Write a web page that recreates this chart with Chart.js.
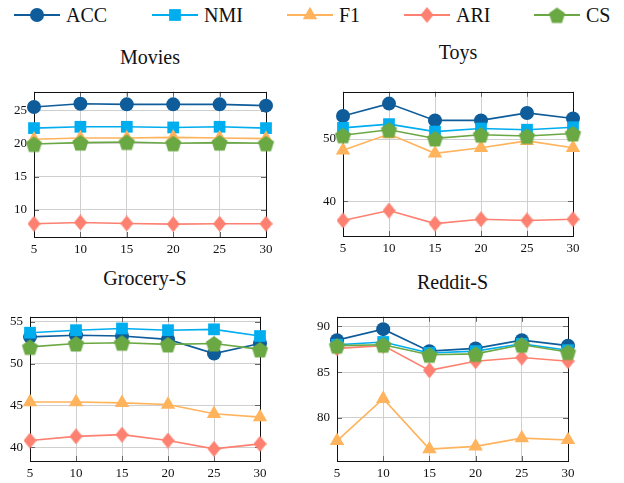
<!DOCTYPE html>
<html>
<head>
<meta charset="utf-8">
<script src="https://cdn.jsdelivr.net/npm/chart.js@4.4.1/dist/chart.umd.min.js"></script>
<style>
body { margin: 0; background: #fff; width: 624px; height: 483px; position: relative; overflow: hidden; }
canvas { position: absolute; }
.title { position: absolute; font-family: 'Liberation Serif'; font-size: 20px; color: #111; transform: translate(-50%, -50%); white-space: nowrap; }
.leg { position: absolute; font-family: 'Liberation Serif'; top: 15px; font-size: 20px; color: #111; transform: translateY(-50%); white-space: nowrap; }
</style>
</head>
<body>
<script>
// x positions, shared by every panel
const xValues = [5, 10, 15, 20, 25, 30];
const seriesNames = ['ACC', 'NMI', 'F1', 'ARI', 'CS'];

const moviesAcc = [25.6, 26.1, 26.0, 26.0, 26.0, 25.8];
const moviesNmi = [22.4, 22.6, 22.6, 22.5, 22.6, 22.4];
const moviesF1  = [20.7, 20.9, 20.9, 21.0, 20.9, 20.8];
const moviesAri = [7.9, 8.1, 7.95, 7.85, 7.9, 7.9];
const moviesCs  = [20.0, 20.2, 20.3, 20.1, 20.2, 20.1];
const moviesTicks = [10, 15, 20, 25];

const toysAcc = [53.7, 55.7, 53.0, 53.0, 54.2, 53.3];
const toysNmi = [51.8, 52.4, 51.2, 51.7, 51.5, 51.9];
const toysF1  = [48.2, 50.8, 47.7, 48.6, 49.7, 48.6];
const toysAri = [36.9, 38.5, 36.4, 37.1, 36.9, 37.1];
const toysCs  = [50.6, 51.5, 50.1, 50.7, 50.5, 50.9];
const toysTicks = [40, 50];

const groceryAcc = [53.2, 53.4, 53.3, 52.9, 51.2, 52.4];
const groceryNmi = [53.7, 54.0, 54.2, 54.0, 54.1, 53.3];
const groceryF1  = [45.4, 45.4, 45.3, 45.1, 44.0, 43.6];
const groceryAri = [40.8, 41.3, 41.5, 40.8, 39.8, 40.4];
const groceryCs  = [52.0, 52.4, 52.5, 52.3, 52.4, 51.7];
const groceryTicks = [40, 45, 50, 55];

const redditAcc = [88.5, 89.7, 87.3, 87.6, 88.5, 87.9];
const redditNmi = [88.0, 88.3, 87.1, 87.3, 88.1, 87.4];
const redditF1  = [77.5, 82.1, 76.6, 76.9, 77.8, 77.6];
const redditAri = [87.6, 87.9, 85.2, 86.2, 86.6, 86.2];
const redditCs  = [87.9, 88.0, 86.9, 87.0, 88.0, 87.2];
const redditTicks = [80, 85, 90];

const colors = ['#0e5c9a', '#00adef', '#ffb35c', '#fd8070', '#6aa843'];

Chart.defaults.font.family = "'Liberation Serif'";

// pentagon / tall diamond markers, not built into chart.js
function pentagon(color, r) {
    let s = Math.ceil(r * 2 + 2);
    let c = document.createElement('canvas');
    c.width = s; c.height = s;
    let g = c.getContext('2d');
    g.fillStyle = color;
    g.beginPath();
    for (let k = 0; k < 5; k++) {
        let a = -Math.PI / 2 + k * 2 * Math.PI / 5;
        let px = s / 2 + r * Math.cos(a), py = s / 2 + 1 + r * Math.sin(a);
        if (k) g.lineTo(px, py); else g.moveTo(px, py);
    }
    g.closePath();
    g.fill();
    return c;
}

function diamond(color, w, h) {
    let c = document.createElement('canvas');
    c.width = w; c.height = h;
    let g = c.getContext('2d');
    g.fillStyle = color;
    g.beginPath();
    g.moveTo(w / 2, 0); g.lineTo(w, h / 2); g.lineTo(w / 2, h); g.lineTo(0, h / 2);
    g.closePath();
    g.fill();
    return c;
}

const markers = [
    { style: 'circle', radius: 7 },
    { style: 'rect', radius: 8.3 },
    { style: 'triangle', radius: 8.3 },
    { style: diamond(colors[3], 13, 16), radius: 7 },
    { style: pentagon(colors[4], 8.5), radius: 8 }
];

// frame around the plot area + little inner tick marks
const framePlugin = {
    id: 'frame',
    beforeDatasetsDraw(chart) {
        let a = chart.chartArea, ctx = chart.ctx;
        let xs = chart.scales.x, ys = chart.scales.y;
        ctx.save();
        ctx.strokeStyle = '#666';
        ctx.lineWidth = 1;
        ctx.beginPath();
        ys.ticks.forEach(t => {
            let y = Math.round(ys.getPixelForValue(t.value)) + 0.5;
            ctx.moveTo(a.left, y); ctx.lineTo(a.left + 5, y);
            ctx.moveTo(a.right, y); ctx.lineTo(a.right - 5, y);
        });
        xs.ticks.forEach(t => {
            let x = Math.round(xs.getPixelForValue(t.value)) + 0.5;
            ctx.moveTo(x, a.top); ctx.lineTo(x, a.top + 5);
            ctx.moveTo(x, a.bottom); ctx.lineTo(x, a.bottom - 5);
        });
        ctx.stroke();
        ctx.strokeStyle = '#111';
        ctx.strokeRect(Math.round(a.left) + 0.5, Math.round(a.top) + 0.5,
            Math.round(a.right - a.left), Math.round(a.bottom - a.top));
        ctx.restore();
    }
};

const tickFont = { family: "'Liberation Serif'", size: 13 };
const padL = 44, padR = 14, padT = 10, padB = 26;

function makePanel(title, box, series, yMin, yMax, yTicks, titleY) {
    let cv = document.createElement('canvas');
    let w = box.r - box.l + padL + padR;
    let h = box.b - box.t + padT + padB;
    cv.width = w; cv.height = h;
    cv.style.left = (box.l - padL) + 'px';
    cv.style.top = (box.t - padT) + 'px';
    document.body.appendChild(cv);

    let t = document.createElement('div');
    t.className = 'title';
    t.textContent = title;
    t.style.left = ((box.l + box.r) / 2) + 'px';
    t.style.top = titleY + 'px';
    document.body.appendChild(t);

    let datasets = series.map((vals, i) => ({
        label: seriesNames[i],
        data: xValues.map((x, j) => ({ x: x, y: vals[j] })),
        borderColor: colors[i],
        backgroundColor: colors[i],
        borderWidth: 1.6,
        pointStyle: markers[i].style,
        pointRadius: markers[i].radius,
        pointBorderWidth: 0,
        pointBackgroundColor: colors[i],
        clip: false,
        order: 4 - i
    }));

    new Chart(cv, {
        type: 'line',
        data: { datasets: datasets },
        options: {
            responsive: false,
            animation: false,
            layout: { padding: { left: 0, right: padR, top: padT, bottom: 0 } },
            plugins: { legend: { display: false }, tooltip: { enabled: false } },
            scales: {
                x: {
                    type: 'linear', min: 5, max: 30,
                    afterBuildTicks: s => { s.ticks = xValues.map(v => ({ value: v })); },
                    afterFit: s => { s.height = padB; },
                    grid: { color: '#cfcfcf', drawTicks: false },
                    border: { display: false },
                    ticks: { font: tickFont, color: '#111', padding: 5, maxRotation: 0 }
                },
                y: {
                    min: yMin, max: yMax,
                    afterBuildTicks: s => { s.ticks = yTicks.map(v => ({ value: v })); },
                    afterFit: s => { s.width = padL; },
                    grid: { color: '#cfcfcf', drawTicks: false },
                    border: { display: false },
                    ticks: { font: tickFont, color: '#111', padding: 7 }
                }
            }
        },
        plugins: [framePlugin]
    });
}

makePanel('Movies', { l: 34, r: 266, t: 87, b: 237 },
    [moviesAcc, moviesNmi, moviesF1, moviesAri, moviesCs], 5.9, 27.9, moviesTicks, 57);
makePanel('Toys', { l: 343, r: 573, t: 87, b: 236 },
    [toysAcc, toysNmi, toysF1, toysAri, toysCs], 34.4, 57.6, toysTicks, 52);
makePanel('Grocery-S', { l: 30, r: 260, t: 312, b: 461 },
    [groceryAcc, groceryNmi, groceryF1, groceryAri, groceryCs], 38.35, 55.6, groceryTicks, 278);
makePanel('Reddit-S', { l: 337, r: 568, t: 312, b: 461 },
    [redditAcc, redditNmi, redditF1, redditAri, redditCs], 75.3, 91.05, redditTicks, 282);

// shared legend on top
const legendX = [14, 152, 287, 404, 534];
seriesNames.forEach((name, i) => {
    let c = document.createElement('canvas');
    c.width = 46; c.height = 22;
    c.style.left = legendX[i] + 'px';
    c.style.top = '4px';
    document.body.appendChild(c);
    let g = c.getContext('2d');
    g.strokeStyle = colors[i];
    g.fillStyle = colors[i];
    g.lineWidth = 2;
    g.beginPath(); g.moveTo(0, 11); g.lineTo(46, 11); g.stroke();
    let m = markers[i], cx = 23, cy = 11, r = m.radius;
    g.beginPath();
    if (m.style === 'circle') {
        g.arc(cx, cy, r, 0, Math.PI * 2); g.fill();
    } else if (m.style === 'rect') {
        let s = r * Math.SQRT1_2;
        g.fillRect(cx - s, cy - s, s * 2, s * 2);
    } else if (m.style === 'triangle') {
        g.moveTo(cx, cy - r);
        g.lineTo(cx + r * Math.sin(2 * Math.PI / 3), cy - r * Math.cos(2 * Math.PI / 3));
        g.lineTo(cx + r * Math.sin(4 * Math.PI / 3), cy - r * Math.cos(4 * Math.PI / 3));
        g.closePath(); g.fill();
    } else {
        g.drawImage(m.style, cx - m.style.width / 2, cy - m.style.height / 2);
    }
    let t = document.createElement('div');
    t.className = 'leg';
    t.textContent = name;
    t.style.left = (legendX[i] + 52) + 'px';
    document.body.appendChild(t);
});
</script>
</body>
</html>
